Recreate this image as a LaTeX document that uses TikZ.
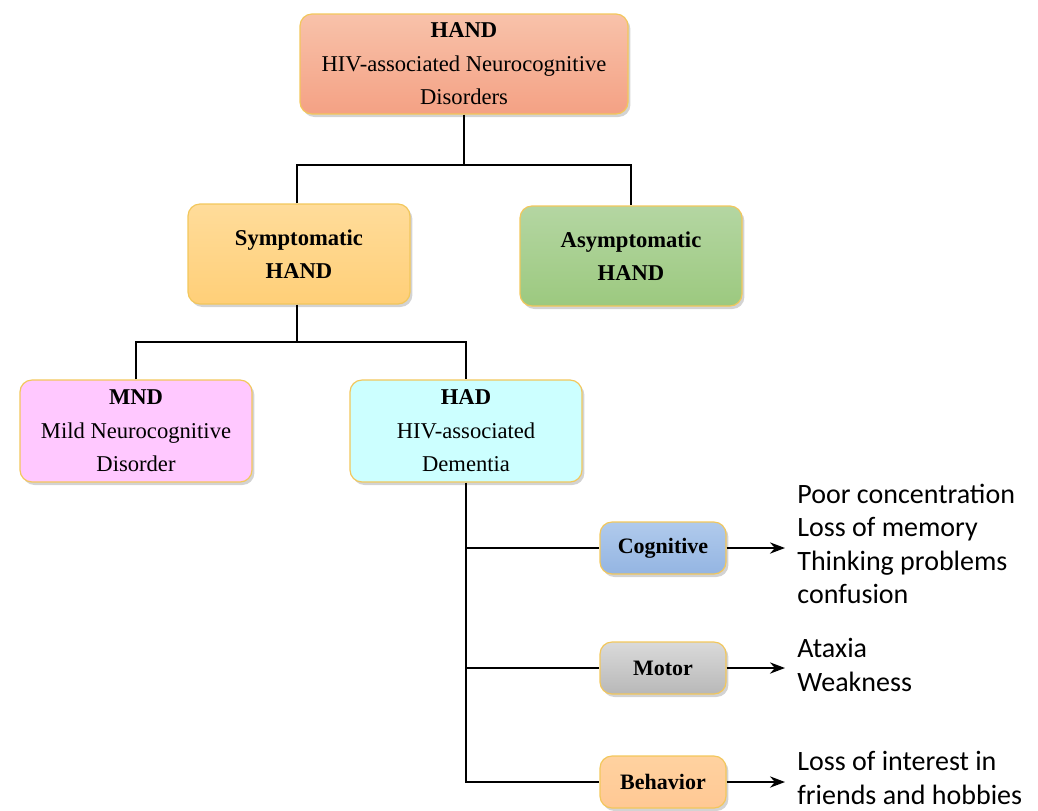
\documentclass[tikz,border=0pt]{standalone}
\usepackage{fontspec}
\setmainfont{Liberation Serif}
\newfontfamily\listfont{Carlito}
\usetikzlibrary{shapes,arrows,arrows.meta,shadows,positioning}

\definecolor{boxline}{HTML}{F2C75C}
\tikzstyle{box} = [draw=boxline, rounded corners=6pt, line width=0.6pt, align=center,
  drop shadow={opacity=0.35,shadow xshift=1.2pt,shadow yshift=-1.5pt},
  font=\fontsize{11.3}{16.75}\selectfont]
\tikzstyle{small} = [box, minimum width=63pt, minimum height=26pt, font=\bfseries\fontsize{11}{13}\selectfont]
\tikzstyle{line} = [line width=1pt]
\tikzstyle{arrow} = [line width=1pt,->,>=Stealth]
\tikzstyle{list} = [anchor=west, align=left, inner xsep=6pt, inner ysep=0pt,
  font=\listfont\fontsize{14}{16.75}\selectfont]

\begin{document}
\begin{tikzpicture}[x=0.5pt,y=-0.5pt]
  \useasboundingbox (0,0) rectangle (1038,810);

  % top level
  \node[box, minimum width=164pt, minimum height=50pt, top color={rgb,255:red,248;green,194;blue,170}, bottom color={rgb,255:red,244;green,161;blue,132}]
    (hand) at (464,64) {\textbf{HAND}\\HIV-associated Neurocognitive\\Disorders};

  \node[box, minimum width=111pt, minimum height=50pt, font=\bfseries\fontsize{11.3}{16.75}\selectfont, top color={rgb,255:red,255;green,220;blue,154}, bottom color={rgb,255:red,255;green,207;blue,120}]
    (symp) at (299,254) {Symptomatic\\HAND};
  \node[box, minimum width=111pt, minimum height=50pt, font=\bfseries\fontsize{11.3}{16.75}\selectfont, top color={rgb,255:red,180;green,214;blue,162}, bottom color={rgb,255:red,156;green,201;blue,127}]
    (asymp) at (631,256) {Asymptomatic\\HAND};

  \node[box, minimum width=116pt, minimum height=51pt, fill={rgb,255:red,255;green,200;blue,255}]
    (mnd) at (136,431) {\textbf{MND}\\Mild Neurocognitive\\Disorder};
  \node[box, minimum width=116pt, minimum height=51pt, fill={rgb,255:red,204;green,255;blue,255}]
    (had) at (466,431) {\textbf{HAD}\\HIV-associated\\Dementia};

  % HAD features
  \node[small, top color={rgb,255:red,176;green,202;blue,236}, bottom color={rgb,255:red,148;green,181;blue,226}] (cog) at (663,548) {Cognitive};
  \node[small, top color={rgb,255:red,218;green,218;blue,218}, bottom color={rgb,255:red,184;green,184;blue,184}] (motor) at (663,668) {Motor};
  \node[small, top color={rgb,255:red,255;green,210;blue,160}, bottom color={rgb,255:red,255;green,200;blue,148}] (behav) at (663,782) {Behavior};

  \node[list] (cogtxt) at (785,544) {Poor concentration\\Loss of memory\\Thinking problems\\confusion};
  \node[list] (motortxt) at (785,665) {Ataxia\\Weakness};
  \node[list] (behavtxt) at (785,778) {Loss of interest in\\friends and hobbies};

  % connectors
  \coordinate (j1) at (464,165);
  \coordinate (j2) at (297,342);
  \draw[line] (hand.south) -- (j1);
  \draw[line] (symp.north -| j2) |- (j1) -| (asymp.north);
  \draw[line] (symp.south -| j2) -- (j2);
  \draw[line] (mnd.north) |- (j2) -| (had.north);
  \draw[line] (had.south) |- (behav.west);
  \draw[line] (had.south |- cog.west) -- (cog.west);
  \draw[line] (had.south |- motor.west) -- (motor.west);

  \draw[arrow] (cog.east) -- (cog.east -| cogtxt.west);
  \draw[arrow] (motor.east) -- (motor.east -| motortxt.west);
  \draw[arrow] (behav.east) -- (behav.east -| behavtxt.west);
\end{tikzpicture}
\end{document}
